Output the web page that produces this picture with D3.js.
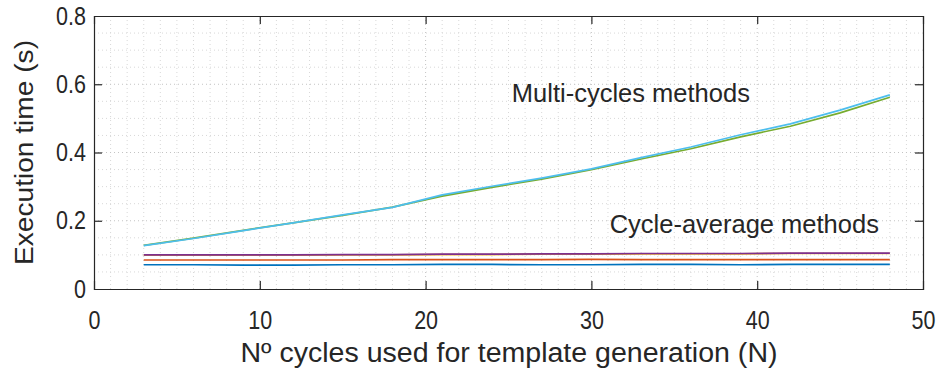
<!DOCTYPE html>
<html>
<head>
<meta charset="utf-8">
<script src="https://cdn.jsdelivr.net/npm/d3@7/dist/d3.min.js"></script>
<style>
  html, body { margin: 0; padding: 0; background: #fff; }
  svg { display: block; }
  text { font-family: "Liberation Sans", Arial, Helvetica, sans-serif; fill: #262626; }
</style>
</head>
<body>
<svg id="chart" width="939" height="372"></svg>
<script>
// Number of cycles used to build the template
const cycles = [3, 6, 9, 12, 15, 18, 21, 24, 27, 30, 33, 36, 39, 42, 45, 48];

// Execution time (s) of each method
const avgBlue   = [0.071, 0.071, 0.070, 0.070, 0.071, 0.071, 0.072, 0.072, 0.071, 0.071, 0.072, 0.072, 0.071, 0.072, 0.072, 0.072];
const avgOrange = [0.085, 0.085, 0.085, 0.085, 0.085, 0.086, 0.086, 0.086, 0.086, 0.087, 0.086, 0.086, 0.086, 0.086, 0.086, 0.086];
const avgYellow = [0.099, 0.099, 0.099, 0.099, 0.100, 0.100, 0.101, 0.101, 0.102, 0.102, 0.103, 0.103, 0.103, 0.104, 0.104, 0.104];
const avgPurple = [0.100, 0.100, 0.100, 0.100, 0.101, 0.101, 0.102, 0.102, 0.103, 0.103, 0.104, 0.104, 0.104, 0.105, 0.105, 0.105];
const multiGreen = [0.128, 0.149, 0.172, 0.194, 0.216, 0.240, 0.272, 0.298, 0.322, 0.350, 0.381, 0.411, 0.446, 0.477, 0.516, 0.562];
const multiCyan  = [0.127, 0.148, 0.171, 0.194, 0.217, 0.239, 0.276, 0.301, 0.325, 0.352, 0.385, 0.416, 0.452, 0.484, 0.524, 0.569];

const seriesList = [
  { name: "avg1", values: avgBlue,   color: "#0072BD" },
  { name: "avg2", values: avgOrange, color: "#D95319" },
  { name: "avg3", values: avgYellow, color: "#EDB120" },
  { name: "avg4", values: avgPurple, color: "#7E2F8E" },
  { name: "multi1", values: multiGreen, color: "#77AC30" },
  { name: "multi2", values: multiCyan,  color: "#4DBEEE" }
];

const xTicks = [0, 10, 20, 30, 40, 50];
const yTicks = [0, 0.2, 0.4, 0.6, 0.8];
const xLabel = "Nº cycles used for template generation (N)";
const yLabel = "Execution time (s)";
const notes = [
  { text: "Multi-cycles methods", x: 25.2, y: 0.547 },
  { text: "Cycle-average methods", x: 31.1, y: 0.164 }
];

const W = 939, H = 372;
const margin = { left: 94, right: 16, top: 16, bottom: 83 };
const svg = d3.select("#chart");

const x = d3.scaleLinear().domain([0, 50]).range([margin.left, W - margin.right]);
const y = d3.scaleLinear().domain([0, 0.8]).range([H - margin.bottom, margin.top]);

// Minor grid: every 1 on x, every 0.05 on y
const grid = svg.append("g");
grid.selectAll("line.vx").data(d3.range(1, 50)).join("line")
  .attr("x1", d => x(d)).attr("x2", d => x(d))
  .attr("y1", y(0)).attr("y2", y(0.8))
  .attr("stroke", d => d % 10 === 0 ? "#c4c4c4" : "#d8d8d8")
  .attr("stroke-width", 1)
  .attr("stroke-dasharray", "1,3");
grid.selectAll("line.hy").data(d3.range(1, 16)).join("line")
  .attr("x1", x(0)).attr("x2", x(50))
  .attr("y1", d => y(d * 0.05)).attr("y2", d => y(d * 0.05))
  .attr("stroke", d => d % 4 === 0 ? "#c4c4c4" : "#d8d8d8")
  .attr("stroke-width", 1)
  .attr("stroke-dasharray", "1,3");

// Data lines
const line = d3.line()
  .x((d, i) => x(cycles[i]))
  .y(d => y(d));
svg.append("g").selectAll("path").data(seriesList).join("path")
  .attr("d", s => line(s.values))
  .attr("fill", "none")
  .attr("stroke", s => s.color)
  .attr("stroke-width", 1.7)
  .attr("stroke-linejoin", "round");

// Axes with inward ticks on all four sides
const tickLen = 8;
const axisColor = "#262626";
const gB = svg.append("g").attr("transform", `translate(0,${y(0)})`)
  .call(d3.axisBottom(x).tickValues(xTicks).tickSize(-tickLen).tickPadding(22).tickFormat(d3.format("d")));
const gT = svg.append("g").attr("transform", `translate(0,${y(0.8)})`)
  .call(d3.axisTop(x).tickValues(xTicks).tickSize(-tickLen).tickFormat(""));
const gL = svg.append("g").attr("transform", `translate(${x(0)},0)`)
  .call(d3.axisLeft(y).tickValues(yTicks).tickSize(-tickLen).tickPadding(8).tickFormat(d => d === 0 ? "0" : d3.format(".1f")(d)));
const gR = svg.append("g").attr("transform", `translate(${x(50)},0)`)
  .call(d3.axisRight(y).tickValues(yTicks).tickSize(-tickLen).tickFormat(""));

[gB, gT, gL, gR].forEach(g => {
  g.select(".domain").attr("stroke", axisColor).attr("stroke-width", 1.2);
  g.selectAll(".tick line").attr("stroke", axisColor).attr("stroke-width", 1.2);
  g.selectAll(".tick text").attr("fill", axisColor)
    .style("font-family", "'Liberation Sans', Arial, sans-serif")
    .style("font-size", "25px");
});
// Narrow the tick numerals slightly
[gB, gL].forEach(g => {
  g.selectAll(".tick text").each(function () {
    const w = this.getComputedTextLength();
    d3.select(this).attr("textLength", w * 0.86).attr("lengthAdjust", "spacingAndGlyphs");
  });
});
// Hide ticks sitting on the box corners
gB.selectAll(".tick").filter(d => d === 0 || d === 50).select("line").remove();
gT.selectAll(".tick").filter(d => d === 0 || d === 50).select("line").remove();
gL.selectAll(".tick").filter(d => d === 0 || d === 0.8).select("line").remove();
gR.selectAll(".tick").filter(d => d === 0 || d === 0.8).select("line").remove();

// Axis titles
svg.append("text")
  .attr("x", (x(0) + x(50)) / 2 + 0.5).attr("y", 362)
  .attr("text-anchor", "middle")
  .style("font-size", "27px")
  .text(xLabel)
  .each(function () {
    d3.select(this).attr("textLength", 537).attr("lengthAdjust", "spacingAndGlyphs");
  });
svg.append("text")
  .attr("transform", `translate(33,${(y(0) + y(0.8)) / 2}) rotate(-90)`)
  .attr("text-anchor", "middle")
  .style("font-size", "26px")
  .text(yLabel)
  .each(function () {
    d3.select(this).attr("textLength", 225).attr("lengthAdjust", "spacingAndGlyphs");
  });

// Group annotations
svg.append("g").selectAll("text").data(notes).join("text")
  .attr("x", d => x(d.x)).attr("y", d => y(d.y))
  .style("font-size", "25.5px")
  .text(d => d.text);
</script>
</body>
</html>
